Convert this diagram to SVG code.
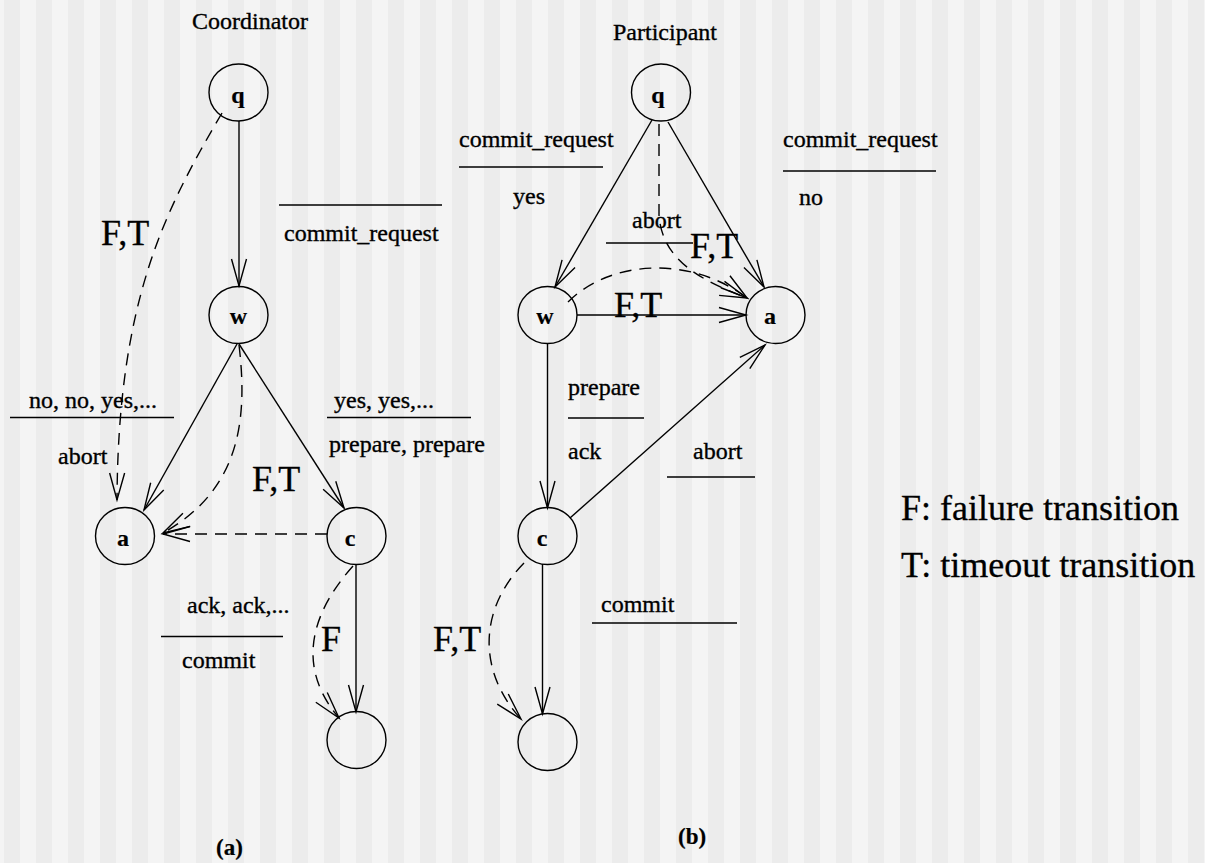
<svg xmlns="http://www.w3.org/2000/svg" width="1205" height="863" viewBox="0 0 1205 863">
  <defs>
    <!-- striped backdrop: 16px bands on a 32px period -->
    <pattern id="stripes" patternUnits="userSpaceOnUse" x="4" y="0" width="32" height="863">
      <rect x="0" y="0" width="16" height="863" fill="#ececec"/>
      <rect x="16" y="0" width="16" height="863" fill="#f4f4f4"/>
    </pattern>
    <!-- open V arrowhead -->
    <marker id="arrow" markerUnits="userSpaceOnUse" orient="auto" refX="0" refY="0"
            markerWidth="40" markerHeight="24" viewBox="-30 -12 40 24" overflow="visible">
      <path d="M -27 -7.5 L 0 0 L -27 7.5" fill="none" stroke="#000" stroke-width="1.4" stroke-dasharray="none"/>
    </marker>
    <style>
      .state { fill: none; stroke: #000; stroke-width: 1.4; }
      .edge { fill: none; stroke: #000; stroke-width: 1.4; marker-end: url(#arrow); }
      .dash { stroke-dasharray: 12 8; }
      .bar { stroke: #000; stroke-width: 1.4; }
      text { font-family: "Liberation Serif", "Times New Roman", serif; fill: #000; stroke: #000; stroke-width: 0.35; }
      .lbl { font-size: 24px; }
      .node { font-size: 24px; font-weight: bold; text-anchor: middle; stroke-width: 0.2; }
      .big { font-size: 36px; stroke-width: 0.3; }
      .cap { font-size: 23px; font-weight: bold; stroke-width: 0.2; }
    </style>
  </defs>

  <rect width="1205" height="863" fill="url(#stripes)"/>

  <!-- ===== (a) Coordinator ===== -->
  <text class="lbl" x="192" y="29">Coordinator</text>

  <g id="coord-q">
    <ellipse class="state" cx="238.5" cy="92.5" rx="29.5" ry="28.5"/>
    <text class="node" x="238" y="103">q</text>
  </g>
  <g id="coord-w">
    <ellipse class="state" cx="238.5" cy="315" rx="29.5" ry="28.5"/>
    <text class="node" x="238.5" y="324">w</text>
  </g>
  <g id="coord-a">
    <ellipse class="state" cx="125" cy="536" rx="29.5" ry="28.5"/>
    <text class="node" x="123" y="546">a</text>
  </g>
  <g id="coord-c">
    <ellipse class="state" cx="356.5" cy="536" rx="29.5" ry="28.5"/>
    <text class="node" x="350" y="546">c</text>
  </g>
  <g id="coord-commit">
    <ellipse class="state" cx="356.5" cy="740" rx="29.5" ry="28.5"/>
  </g>

  <g id="coord-connectors">
    <path class="edge" d="M 239 121 L 239 286"/>
    <path class="edge dash" d="M 222 113 C 165 210, 118 300, 117 500"/>
    <path class="edge" d="M 237 344 L 144 510"/>
    <path class="edge" d="M 239 344 L 344 508"/>
    <path class="edge dash" d="M 239 345 C 248 420, 240 490, 163 533"/>
    <path class="edge dash" d="M 327 534 L 163 534"/>
    <path class="edge" d="M 356 565 L 356 712"/>
    <path class="edge dash" d="M 353 566 C 305 620, 300 672, 339 718"/>
  </g>

  <g id="coord-labels">
    <line class="bar" x1="279" y1="205" x2="442" y2="205"/>
    <text class="lbl" x="284" y="241">commit_request</text>
    <text class="big" x="101" y="245">F,T</text>

    <text class="lbl" x="29" y="408">no, no, yes,...</text>
    <line class="bar" x1="10" y1="417.5" x2="174" y2="417.5"/>
    <text class="lbl" x="58" y="464">abort</text>

    <text class="lbl" x="334" y="408">yes, yes,...</text>
    <line class="bar" x1="327" y1="417.5" x2="471" y2="417.5"/>
    <text class="lbl" x="329" y="452">prepare, prepare</text>

    <text class="big" x="252" y="491">F,T</text>

    <text class="lbl" x="187" y="613">ack, ack,...</text>
    <line class="bar" x1="161" y1="636.5" x2="283" y2="636.5"/>
    <text class="lbl" x="182" y="668">commit</text>
    <text class="big" x="321" y="651">F</text>

    <text class="cap" x="216" y="855">(a)</text>
  </g>

  <!-- ===== (b) Participant ===== -->
  <text class="lbl" x="613" y="40">Participant</text>

  <g id="part-q">
    <ellipse class="state" cx="661" cy="92.5" rx="29.5" ry="28.5"/>
    <text class="node" x="658" y="103">q</text>
  </g>
  <g id="part-w">
    <ellipse class="state" cx="547.5" cy="315" rx="29.5" ry="28.5"/>
    <text class="node" x="545" y="324">w</text>
  </g>
  <g id="part-a">
    <ellipse class="state" cx="775.5" cy="315" rx="29.5" ry="28.5"/>
    <text class="node" x="770" y="324">a</text>
  </g>
  <g id="part-c">
    <ellipse class="state" cx="547.5" cy="536" rx="29.5" ry="28.5"/>
    <text class="node" x="542" y="546">c</text>
  </g>
  <g id="part-commit">
    <ellipse class="state" cx="547.5" cy="742" rx="29.5" ry="28.5"/>
  </g>

  <g id="part-connectors">
    <path class="edge" d="M 652 120 L 555 287"/>
    <path class="edge" d="M 668 122 L 764 287"/>
    <path class="edge dash" d="M 659 124 L 659 215 C 662 260, 700 280, 747 298"/>
    <path class="edge dash" d="M 568 302 C 610 260, 690 255, 747 298"/>
    <path class="edge" d="M 577 315 L 746 315"/>
    <path class="edge" d="M 547.5 343 L 547.5 508"/>
    <path class="edge" d="M 570 518 L 765 345"/>
    <path class="edge" d="M 542.5 564 L 542.5 714"/>
    <path class="edge dash" d="M 524 563 C 478 610, 478 672, 521 719"/>
  </g>

  <g id="part-labels">
    <text class="lbl" x="459" y="147">commit_request</text>
    <line class="bar" x1="459" y1="167" x2="603" y2="167"/>
    <text class="lbl" x="513" y="204">yes</text>

    <text class="lbl" x="783" y="147">commit_request</text>
    <line class="bar" x1="783" y1="171" x2="936" y2="171"/>
    <text class="lbl" x="799" y="205">no</text>

    <text class="lbl" x="632" y="228">abort</text>
    <line class="bar" x1="606" y1="243" x2="693" y2="243"/>
    <text class="big" x="690" y="258">F,T</text>
    <text class="big" x="614" y="317">F,T</text>

    <text class="lbl" x="568" y="395">prepare</text>
    <line class="bar" x1="568" y1="418" x2="644" y2="418"/>
    <text class="lbl" x="568" y="459">ack</text>

    <text class="lbl" x="693" y="459">abort</text>
    <line class="bar" x1="667" y1="477" x2="755" y2="477"/>

    <text class="lbl" x="601" y="612">commit</text>
    <line class="bar" x1="592" y1="623" x2="737" y2="623"/>
    <text class="big" x="433" y="651">F,T</text>

    <text class="cap" x="678" y="844">(b)</text>
  </g>

  <!-- legend -->
  <g id="legend">
    <text class="big" x="901" y="520">F: failure transition</text>
    <text class="big" x="901" y="577">T: timeout transition</text>
  </g>
</svg>
